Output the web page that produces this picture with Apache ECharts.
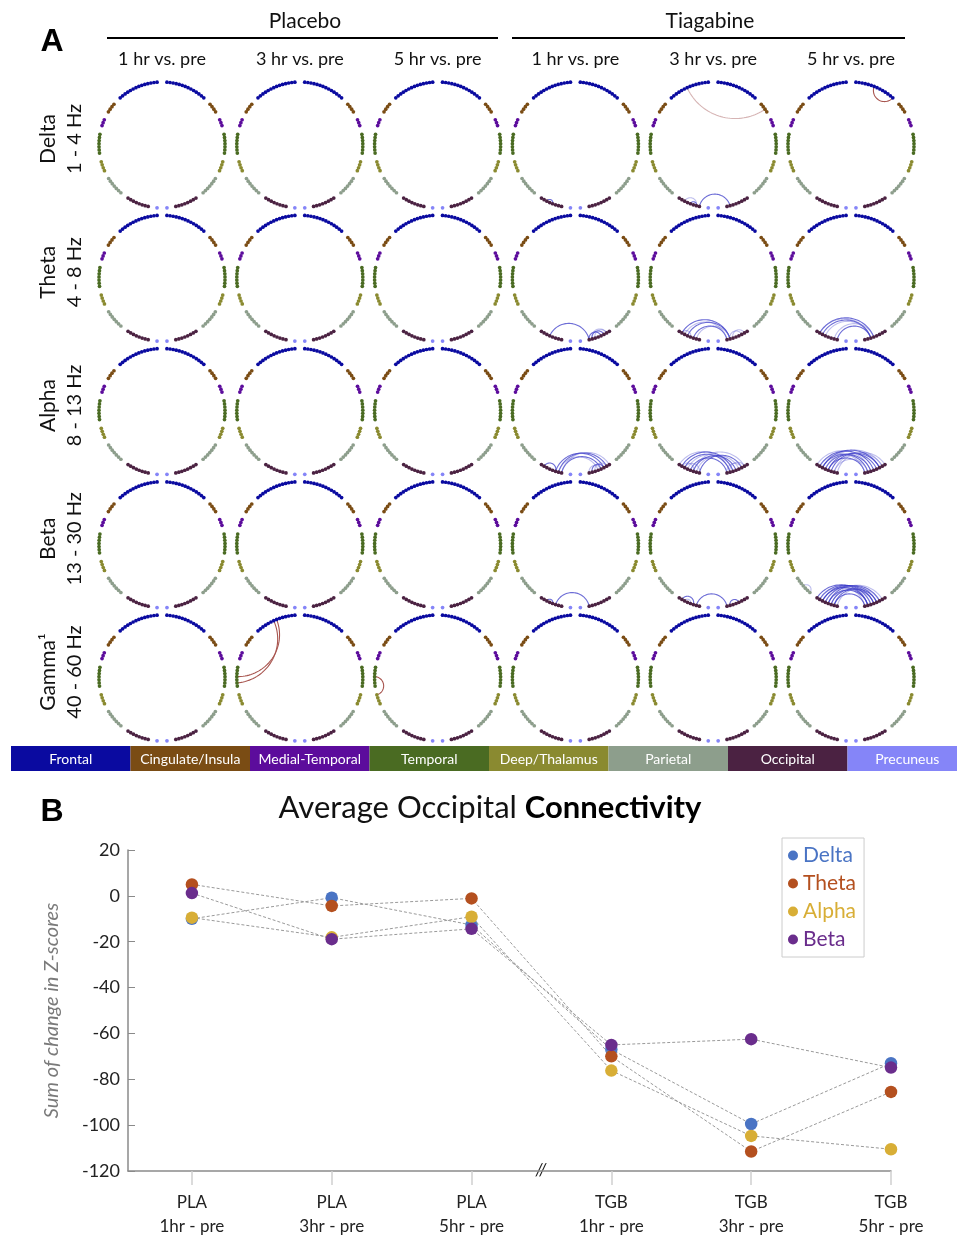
<!DOCTYPE html>
<html><head><meta charset="utf-8">
<script src="https://cdn.jsdelivr.net/npm/echarts@6/dist/echarts.min.js"></script>
<style>html,body{margin:0;padding:0;background:#fff}#c{width:957px;height:1239px}</style>
</head><body><div id="c"></div>
<script>
const FONT = 'Lato, "Open Sans", "DejaVu Sans", sans-serif';

// ---------- Panel A data ----------
const regionNames  = ['Frontal','Cingulate/Insula','Medial-Temporal','Temporal','Deep/Thalamus','Parietal','Occipital','Precuneus'];
const regionCodes  = ['F','C','M','T','D','P','O','Q'];
const regionCounts = [14, 4, 3, 7, 4, 7, 8, 1];
const regionColors = ['#0a0aa0','#7a4c14','#5c0c9c','#4a6b22','#8a8a30','#8d9e8c','#4b2242','#8585f8'];

const groupLabels = ['Placebo', 'Tiagabine'];
const conditionLabels = ['1 hr vs. pre','3 hr vs. pre','5 hr vs. pre','1 hr vs. pre','3 hr vs. pre','5 hr vs. pre'];
const bandNames  = ['Delta','Theta','Alpha','Beta','Gamma\u00b9'];
const bandRanges = ['1 - 4 Hz','4 - 8 Hz','8 - 13 Hz','13 - 30 Hz','40 - 60 Hz'];

// edges per band row, one list per condition column: "node-node:class"
const edgesDelta = [[], [], [],
  ['LO2-LO4:b'],
  ['LO2-LO6:l','LO4-LO6:b','LO7-RO6:b','LF7-RC2:p'],
  ['RF6-RF13:r']];
const edgesTheta = [[], [], [],
  ['LO3-RO7:b','RO7-RO3:b','RO6-RO2:b','RO6-RO1:l','RO5-RO1:l'],
  ['LO1-RO6:b','LO3-RO6:b','LO5-RO7:b','LO2-RO7:l','LO6-RO6:l','RO6-RO2:l','RO5-RO1:l','LO1-LO4:l'],
  ['LO1-RO4:b','LO1-RO5:l','LO2-RO5:b','LO3-RO5:l','LO7-RO5:b','LO6-RO4:l']];
const edgesAlpha = [[], [], [],
  ['LO1-LO5:b','LO5-RO2:b','LO6-RO1:b','LO7-RO3:b','LO6-RO4:l','LO7-RO0:l','RO6-RO2:b','RO5-RO1:l','RO7-RO3:l'],
  ['LO0-RO6:l','LO1-RO5:b','LO2-RO6:b','LO3-RO5:l','LO4-RO7:b','LO5-RO4:b','LO6-RO3:l','LO7-RO2:b','LO5-RO1:l','LO1-LO5:l','RO7-RO2:l','RO6-RO1:l','LO2-LO7:l'],
  ['LO0-RO5:l','LO1-RO4:b','LO2-RO6:b','LO3-RO5:b','LO4-RO3:b','LO5-RO2:b','LO6-RO1:l','LO7-RO0:l','LO2-RO2:b','LO3-RO1:l','LO4-RO7:b','LO6-RO6:l','LO1-RO7:l']];
const edgesBeta = [[], [], [],
  ['LO2-LO4:b','LO5-RO7:b'],
  ['LO1-LO5:b','LO2-LO4:l','LO6-RO7:b','RO3-RO6:b'],
  ['LP3-LP6:l','LO0-RO6:b','LO1-RO5:b','LO1-RO7:l','LO2-RO4:b','LO2-RO6:b','LO3-RO3:b','LO3-RO5:l','LO4-RO2:b','LO4-RO6:b','LO5-RO1:l','LO5-RO4:b','LO6-RO3:b','LO7-RO2:l','LO6-RO7:b']];
const edgesGamma = [[],
  ['LF6-LT3:r','LF7-LT5:r'],
  ['LT3-LD0:r'],
  [], [], []];
const edgesByBand = [edgesDelta, edgesTheta, edgesAlpha, edgesBeta, edgesGamma];
const edgeClasses = ['b','l','p','r'];
const edgeColors  = ['rgba(60,60,200,0.75)','rgba(110,110,215,0.45)','#d6b4b4','#a8554f'];

// ---------- Panel B data ----------
const xLabels = ['PLA\n1hr - pre','PLA\n3hr - pre','PLA\n5hr - pre','TGB\n1hr - pre','TGB\n3hr - pre','TGB\n5hr - pre'];
const seriesNames  = ['Delta','Theta','Alpha','Beta'];
const seriesColors = ['#4a74c4','#b4501f','#d8ae36','#6a2d8c'];
const deltaVals = [-10, -0.8, -12.7, -67, -99.5, -73];
const thetaVals = [5, -4.4, -1.1, -70, -111.5, -85.5];
const alphaVals = [-9.5, -18.1, -9.1, -76.2, -104.7, -110.5];
const betaVals  = [1.2, -18.9, -14.4, -65, -62.5, -74.9];
const yTicks = {min: -120, max: 20, step: 20};

// ---------- layout ----------
const ringStart = 4.5, ringStep = 2.85, ringGap = 8.14;
const colX0 = 162, colDX = 137.8, rowY0 = 145, rowDY = 133.25, ringR = 63;

function nodeAngle(side, code, idx) {
  let a = ringStart;
  for (let g = 0; g < regionCodes.length; g++) {
    if (regionCodes[g] === code) { a += idx * ringStep; break; }
    a += (regionCounts[g] - 1) * ringStep + ringGap;
  }
  return side === 'L' ? 360 - a : a;
}
function parseNode(s) {
  return nodeAngle(s[0], s[1], parseInt(s.slice(2), 10));
}
const nodes = [];
['L','R'].forEach(side => {
  regionCodes.forEach((c, g) => {
    for (let i = 0; i < regionCounts[g]; i++) nodes.push({ang: nodeAngle(side, c, i), color: regionColors[g]});
  });
});

function geodesic(a1, a2, n) {
  const t1 = a1 * Math.PI / 180, t2 = a2 * Math.PI / 180;
  const p1 = [Math.sin(t1), Math.cos(t1)], p2 = [Math.sin(t2), Math.cos(t2)];
  let d = Math.abs(a1 - a2) % 360; if (d > 180) d = 360 - d;
  const dr = d * Math.PI / 180;
  const pts = [];
  if (Math.abs(d - 180) < 0.5) {
    for (let k = 0; k <= n; k++) { const f = k / n; pts.push([p1[0] + (p2[0] - p1[0]) * f, p1[1] + (p2[1] - p1[1]) * f]); }
  } else {
    const mx = p1[0] + p2[0], my = p1[1] + p2[1], ml = Math.hypot(mx, my);
    const ux = mx / ml, uy = my / ml;
    const dist = 1 / Math.cos(dr / 2), rho = Math.tan(dr / 2);
    const cx = ux * dist, cy = uy * dist;
    const s1 = Math.atan2(p1[1] - cy, p1[0] - cx), s2 = Math.atan2(p2[1] - cy, p2[0] - cx);
    let ds = s2 - s1;
    while (ds > Math.PI) ds -= 2 * Math.PI;
    while (ds < -Math.PI) ds += 2 * Math.PI;
    for (let k = 0; k <= n; k++) { const s = s1 + ds * k / n; pts.push([cx + rho * Math.cos(s), cy + rho * Math.sin(s)]); }
  }
  return pts.map(p => {
    let ang = Math.atan2(p[0], p[1]) * 180 / Math.PI; if (ang < 0) ang += 360;
    return [Math.min(1, Math.hypot(p[0], p[1])), ang];
  });
}

const polar = [], angleAxis = [], radiusAxis = [], series = [];
let k = 0;
for (let r = 0; r < 5; r++) {
  for (let c = 0; c < 6; c++) {
    polar.push({center: [colX0 + colDX * c, rowY0 + rowDY * r], radius: ringR});
    angleAxis.push({polarIndex: k, type: 'value', min: 0, max: 360, startAngle: 90, clockwise: true, show: false});
    radiusAxis.push({polarIndex: k, type: 'value', min: 0, max: 1, show: false});
    const edges = edgesByBand[r][c];
    if (edges.length) {
      series.push({
        type: 'custom', coordinateSystem: 'polar', polarIndex: k, silent: true, z: 2,
        data: edges.map(e => {
          const [pair, cls] = e.split(':');
          const [n1, n2] = pair.split('-');
          return [parseNode(n1), parseNode(n2), edgeClasses.indexOf(cls)];
        }),
        renderItem: function (params, api) {
          const pts = geodesic(api.value(0), api.value(1), 40).map(p => api.coord([p[0], p[1]]));
          return {type: 'polyline', shape: {points: pts},
            style: {stroke: edgeColors[api.value(2)], fill: null, lineWidth: 1.1}};
        }
      });
    }
    series.push({
      type: 'scatter', coordinateSystem: 'polar', polarIndex: k, silent: true, z: 3,
      symbolSize: 3.7,
      data: nodes.map(n => ({value: [1, n.ang], itemStyle: {color: n.color, opacity: 1}}))
    });
    k++;
  }
}

// Panel B series
[deltaVals, thetaVals, alphaVals, betaVals].forEach((vals, i) => {
  series.push({
    type: 'line', name: seriesNames[i], xAxisIndex: 0, yAxisIndex: 0,
    data: vals.map((v, j) => [j, v]),
    symbol: 'circle', symbolSize: 12.5, z: 5 + i,
    lineStyle: {type: [3, 2], color: '#9a9a9a', width: 1},
    itemStyle: {color: seriesColors[i], opacity: 1}
  });
});

// ---------- graphics ----------
const g = [];
function txt(x, y, text, opt) {
  return {type: 'text', x: x, y: y, silent: true,
    style: Object.assign({text: text, fontFamily: FONT, fill: '#111', fontSize: 18,
      align: 'center', verticalAlign: 'middle', textAlign: 'center', textVerticalAlign: 'middle'}, opt || {})};
}
g.push(txt(52, 42, 'A', {fontSize: 32, fontWeight: 'bold', fontFamily: 'Liberation Sans, Arial, sans-serif', fill: '#000'}));
g.push(txt(305, 21, groupLabels[0], {fontSize: 21}));
g.push(txt(710, 21, groupLabels[1], {fontSize: 21}));
g.push({type: 'line', shape: {x1: 107, y1: 38, x2: 498, y2: 38}, style: {stroke: '#000', lineWidth: 2}});
g.push({type: 'line', shape: {x1: 512, y1: 38, x2: 905, y2: 38}, style: {stroke: '#000', lineWidth: 2}});
conditionLabels.forEach((t, c) => g.push(txt(colX0 + colDX * c, 59, t, {fontSize: 18})));
bandNames.forEach((t, r) => {
  const cy = rowY0 + rowDY * r - 6;
  const a = txt(48, cy, t, {fontSize: 21}); a.rotation = Math.PI / 2; g.push(a);
  const b = txt(75, cy, bandRanges[r], {fontSize: 20}); b.rotation = Math.PI / 2; g.push(b);
});
const barX0 = 11, barW = 119.5, barY = 746, barH = 25;
regionNames.forEach((t, i) => {
  g.push({type: 'rect', shape: {x: barX0 + barW * i, y: barY, width: barW, height: barH}, style: {fill: regionColors[i]}, silent: true});
  g.push(txt(barX0 + barW * i + barW / 2, barY + barH / 2 + 1, t, {fontSize: 14, fill: '#fff'}));
});
g.push(txt(52, 812, 'B', {fontSize: 32, fontWeight: 'bold', fontFamily: 'Liberation Sans, Arial, sans-serif', fill: '#000'}));
g.push({type: 'text', x: 490, y: 808, silent: true, style: {
  text: '{a|Average Occipital }{b|Connectivity}', align: 'center', verticalAlign: 'middle',
  textAlign: 'center', textVerticalAlign: 'middle',
  rich: {a: {fontSize: 31, fontFamily: FONT, fill: '#111', color: '#111'},
         b: {fontSize: 31, fontFamily: FONT, fontWeight: 'bold', fill: '#000', color: '#000'}}}});
g.push(txt(541, 1171, '//', {fontSize: 17, fontStyle: 'italic', fill: '#222'}));

const option = {
  animation: false,
  backgroundColor: '#fff',
  polar: polar, angleAxis: angleAxis, radiusAxis: radiusAxis,
  grid: [{left: 128, right: 66, top: 850, bottom: 68}],
  xAxis: [{type: 'value', gridIndex: 0, min: -0.457, max: 5,
    axisLine: {show: true, onZero: false, lineStyle: {color: '#8a8a8a', width: 1.5}},
    axisTick: {show: true, customValues: [0, 1, 2, 3, 4, 5], length: 14, lineStyle: {color: '#cfcfcf', width: 1.5}},
    axisLabel: {show: true, customValues: [0, 1, 2, 3, 4, 5], formatter: v => xLabels[Math.round(v)],
      fontSize: 17, color: '#222', lineHeight: 24, margin: 20, fontFamily: FONT},
    splitLine: {show: false}}],
  yAxis: [{type: 'value', gridIndex: 0, min: yTicks.min, max: yTicks.max, interval: yTicks.step,
    axisLine: {show: true, onZero: false, lineStyle: {color: '#8a8a8a', width: 1.5}},
    axisTick: {show: true, inside: true, length: 7, lineStyle: {color: '#8a8a8a'}},
    axisLabel: {fontSize: 18, color: '#222', margin: 8, fontFamily: FONT},
    splitLine: {show: false},
    name: 'Sum of change in Z-scores', nameLocation: 'middle', nameGap: 66,
    nameTextStyle: {fontStyle: 'italic', fontSize: 20, color: '#7a7a7a', fontFamily: FONT}}],
  legend: {orient: 'vertical', left: 782, top: 838, padding: [7, 8, 7, 6], itemGap: 7,
    itemWidth: 10, itemHeight: 10, icon: 'circle', borderColor: '#cccccc', borderWidth: 1,
    backgroundColor: '#fff', selectedMode: false,
    textStyle: {fontSize: 21, fontFamily: FONT},
    data: seriesNames.map((n, i) => ({name: n, itemStyle: {color: seriesColors[i]}, textStyle: {color: seriesColors[i]}}))},
  graphic: {elements: g},
  series: series
};
const chart = echarts.init(document.getElementById('c'), null, {renderer: 'canvas'});
chart.setOption(option);
</script></body></html>
